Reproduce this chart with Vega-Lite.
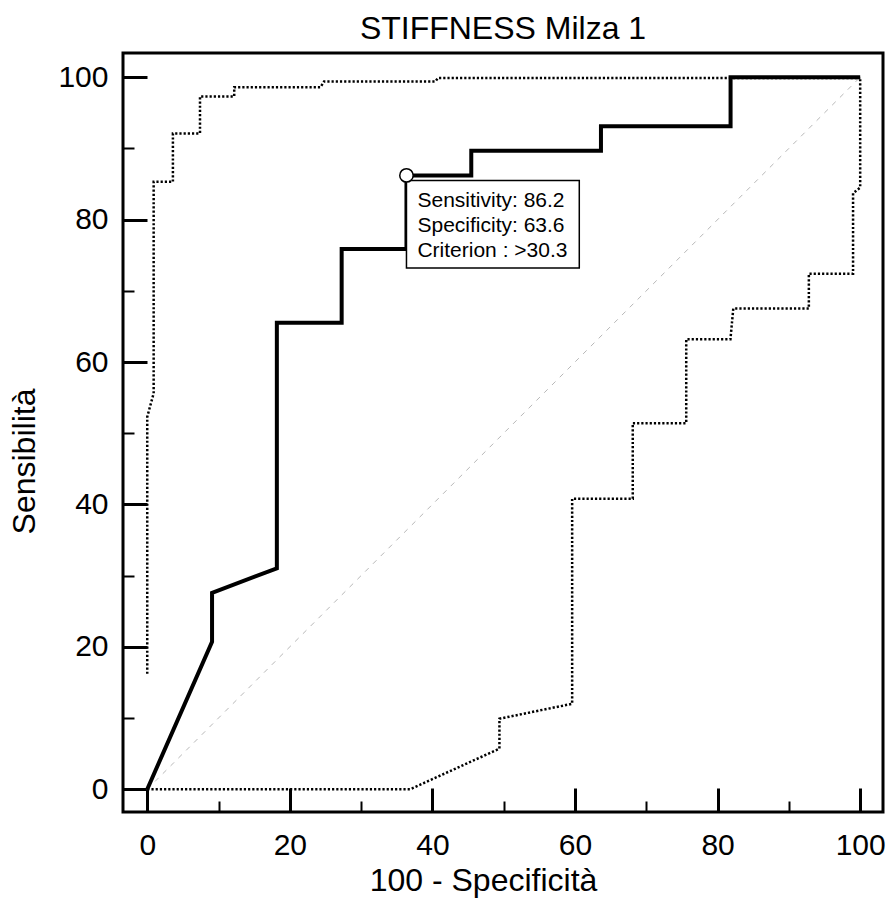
{
  "$schema": "https://vega.github.io/schema/vega-lite/v6.json",
  "width": 760,
  "height": 759,
  "autosize": {"type": "none"},
  "padding": {"left": 123, "top": 53, "right": 6, "bottom": 109},
  "background": "white",
  "title": {"text": "STIFFNESS Milza 1", "fontSize": 32, "font": "Liberation Sans", "fontWeight": "normal", "color": "black", "anchor": "middle", "baseline": "alphabetic", "offset": 16, "dy": 34},
  "config": {
    "view": {"stroke": "black", "strokeWidth": 3},
    "font": "Liberation Sans"
  },
  "datasets": {
    "roc": [
      {"x": 0, "y": 0}, {"x": 9.09, "y": 20.69}, {"x": 9.09, "y": 27.59}, {"x": 18.18, "y": 31.03},
      {"x": 18.18, "y": 65.52}, {"x": 27.27, "y": 65.52}, {"x": 27.27, "y": 75.86}, {"x": 36.36, "y": 75.86},
      {"x": 36.36, "y": 86.21}, {"x": 45.45, "y": 86.21}, {"x": 45.45, "y": 89.66}, {"x": 63.64, "y": 89.66},
      {"x": 63.64, "y": 93.1}, {"x": 81.82, "y": 93.1}, {"x": 81.82, "y": 100}, {"x": 100, "y": 100}
    ],
    "upper": [
      {"x": 0, "y": 16.2}, {"x": 0, "y": 52.3}, {"x": 0.9, "y": 55.6}, {"x": 0.9, "y": 85.3},
      {"x": 3.6, "y": 85.3}, {"x": 3.6, "y": 92.1}, {"x": 7.4, "y": 92.1}, {"x": 7.4, "y": 97.3},
      {"x": 12.2, "y": 97.3}, {"x": 12.2, "y": 98.6}, {"x": 24.3, "y": 98.6}, {"x": 24.8, "y": 99.4},
      {"x": 40.4, "y": 99.4}, {"x": 40.8, "y": 99.9}, {"x": 100, "y": 99.9}
    ],
    "lower": [
      {"x": 0, "y": 0}, {"x": 36.9, "y": 0}, {"x": 49.4, "y": 5.7}, {"x": 49.4, "y": 9.9},
      {"x": 59.6, "y": 12.0}, {"x": 59.6, "y": 40.8}, {"x": 68.1, "y": 40.8}, {"x": 68.1, "y": 51.4},
      {"x": 75.6, "y": 51.4}, {"x": 75.6, "y": 63.2}, {"x": 81.8, "y": 63.2}, {"x": 82.2, "y": 67.5},
      {"x": 92.8, "y": 67.5}, {"x": 92.8, "y": 72.4}, {"x": 99.0, "y": 72.4}, {"x": 99.0, "y": 83.7},
      {"x": 100, "y": 84.5}, {"x": 100, "y": 100}
    ],
    "diag": [{"x": 0, "y": 0}, {"x": 100, "y": 100}],
    "box": [{"x": 36.36, "x2": 60.6, "y": 85.5, "y2": 73.2}],
    "point": [{"x": 36.36, "y": 86.21}],
    "labels": [
      {"x": 37.9, "y": 81.8, "t": "Sensitivity: 86.2"},
      {"x": 37.9, "y": 78.3, "t": "Specificity: 63.6"},
      {"x": 37.9, "y": 74.8, "t": "Criterion : >30.3"}
    ]
  },
  "layer": [
    {
      "data": {"name": "diag"},
      "mark": {"type": "line", "color": "#b8b8b8", "strokeWidth": 1, "strokeDash": [5, 6]},
      "encoding": {
        "x": {
          "field": "x", "type": "quantitative",
          "scale": {"domain": [-3.4, 103.2], "nice": false, "zero": false},
          "axis": {
            "values": [0, 5, 10, 15, 20, 25, 30, 35, 40, 45, 50, 55, 60, 65, 70, 75, 80, 85, 90, 95, 100],
            "tickSize": {"condition": {"test": "datum.value % 20 === 0", "value": -24}, "value": -11},
            "tickWidth": {"condition": {"test": "datum.value % 20 === 0", "value": 3}, "value": 2},
            "tickColor": "black",
            "labelExpr": "datum.value % 20 === 0 ? datum.label : ''",
            "labelFontSize": 30, "labelColor": "black", "labelFont": "Liberation Sans",
            "labelPadding": 42, "labelFlush": false, "labelOverlap": false,
            "domain": false, "grid": false,
            "title": "100 - Specificità", "titleFontSize": 32, "titleFontWeight": "normal", "titleColor": "black",
            "titleFont": "Liberation Sans", "titleX": 360, "titleY": 78, "titleBaseline": "alphabetic", "titleAlign": "center", "titleAnchor": null
          }
        },
        "y": {
          "field": "y", "type": "quantitative",
          "scale": {"domain": [-3.2, 103.4], "nice": false, "zero": false},
          "axis": {
            "values": [0, 5, 10, 15, 20, 25, 30, 35, 40, 45, 50, 55, 60, 65, 70, 75, 80, 85, 90, 95, 100],
            "tickSize": {"condition": {"test": "datum.value % 20 === 0", "value": -24}, "value": -11},
            "tickWidth": {"condition": {"test": "datum.value % 20 === 0", "value": 3}, "value": 2},
            "tickColor": "black",
            "labelExpr": "datum.value % 20 === 0 ? datum.label : ''",
            "labelFontSize": 30, "labelColor": "black", "labelFont": "Liberation Sans",
            "labelPadding": 39, "labelFlush": false, "labelOverlap": false,
            "domain": false, "grid": false,
            "title": "Sensibilità", "titleFontSize": 32, "titleFontWeight": "normal", "titleColor": "black",
            "titleFont": "Liberation Sans", "titleX": -99, "titleY": 408, "titleBaseline": "middle", "titleAlign": "center", "titleAngle": -90
          }
        },
        "order": {"value": null}
      }
    },
    {
      "data": {"name": "upper"},
      "mark": {"type": "line", "color": "black", "strokeWidth": 2.5, "strokeDash": [2.2, 2]},
      "encoding": {
        "x": {"field": "x", "type": "quantitative"},
        "y": {"field": "y", "type": "quantitative"},
        "order": {"value": null}
      }
    },
    {
      "data": {"name": "lower"},
      "mark": {"type": "line", "color": "black", "strokeWidth": 2.5, "strokeDash": [2.2, 2]},
      "encoding": {
        "x": {"field": "x", "type": "quantitative"},
        "y": {"field": "y", "type": "quantitative"},
        "order": {"value": null}
      }
    },
    {
      "data": {"name": "roc"},
      "mark": {"type": "line", "color": "black", "strokeWidth": 4, "strokeJoin": "miter"},
      "encoding": {
        "x": {"field": "x", "type": "quantitative"},
        "y": {"field": "y", "type": "quantitative"},
        "order": {"value": null}
      }
    },
    {
      "data": {"name": "box"},
      "mark": {"type": "rect", "fill": "white", "stroke": "black", "strokeWidth": 1.5},
      "encoding": {
        "x": {"field": "x", "type": "quantitative"},
        "x2": {"field": "x2"},
        "y": {"field": "y", "type": "quantitative"},
        "y2": {"field": "y2"}
      }
    },
    {
      "data": {"name": "point"},
      "mark": {"type": "point", "shape": "circle", "size": 180, "filled": false, "fill": "white", "fillOpacity": 1, "stroke": "black", "strokeWidth": 1.5, "opacity": 1},
      "encoding": {
        "x": {"field": "x", "type": "quantitative"},
        "y": {"field": "y", "type": "quantitative"}
      }
    },
    {
      "data": {"name": "labels"},
      "mark": {"type": "text", "align": "left", "baseline": "alphabetic", "fontSize": 21, "font": "Liberation Sans", "color": "black"},
      "encoding": {
        "x": {"field": "x", "type": "quantitative"},
        "y": {"field": "y", "type": "quantitative"},
        "text": {"field": "t"}
      }
    }
  ]
}
